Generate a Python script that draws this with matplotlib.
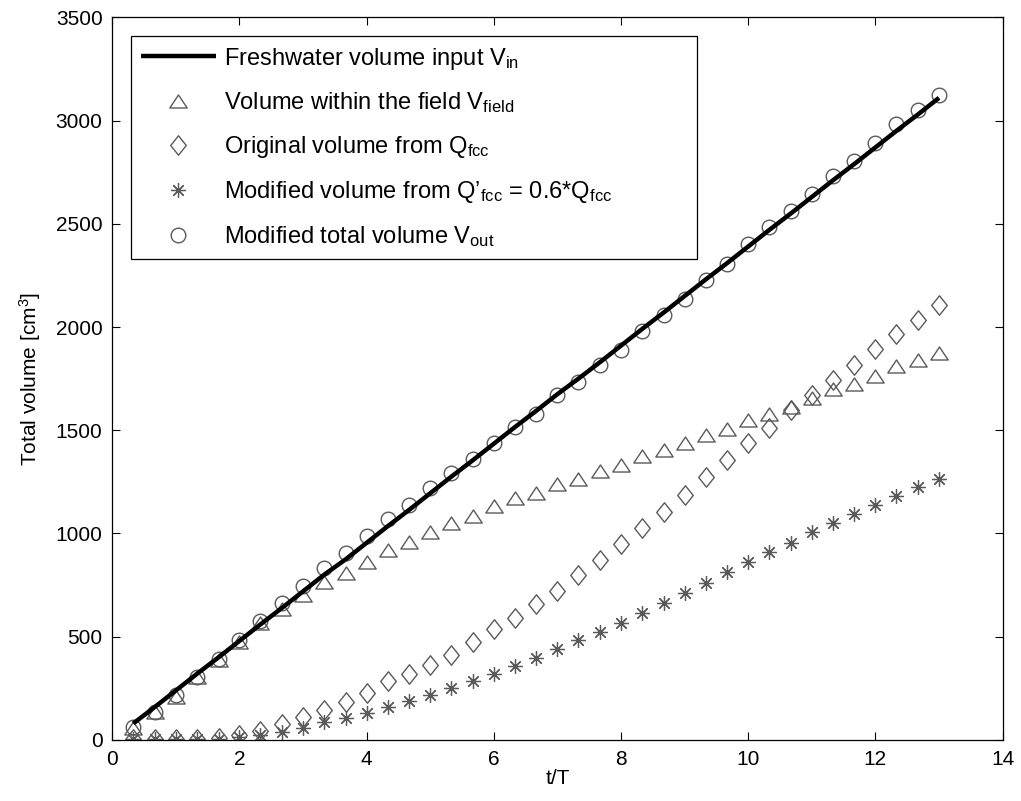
import matplotlib
matplotlib.use('Agg')
import matplotlib.pyplot as plt
from matplotlib.path import Path

plt.rcParams['font.family'] = ['Liberation Sans', 'DejaVu Sans']
plt.rcParams['mathtext.fontset'] = 'custom'
plt.rcParams['mathtext.rm'] = 'Liberation Sans'
plt.rcParams['mathtext.it'] = 'Liberation Sans:italic'
plt.rcParams['font.size'] = 15

# t/T sample points (every third of a period)
t_over_T = [0.33, 0.67, 1.0, 1.33, 1.67, 2.0, 2.33, 2.67, 3.0, 3.33,
            3.67, 4.0, 4.33, 4.67, 5.0, 5.33, 5.67, 6.0, 6.33, 6.67,
            7.0, 7.33, 7.67, 8.0, 8.33, 8.67, 9.0, 9.33, 9.67, 10.0,
            10.33, 10.67, 11.0, 11.33, 11.67, 12.0, 12.33, 12.67, 13.0]

# freshwater input V_in (straight line)
v_in = [80, 160, 240, 320, 400, 480, 560, 640, 720, 800,
        875, 955, 1035, 1115, 1195, 1275, 1355, 1435, 1515, 1595,
        1675, 1750, 1830, 1910, 1990, 2070, 2150, 2230, 2310, 2390,
        2470, 2550, 2630, 2710, 2790, 2870, 2950, 3030, 3110]

# volume within the field V_field
v_field = [57, 137, 210, 303, 387, 476, 565, 633, 702, 766,
           808, 863, 920, 960, 1008, 1052, 1084, 1133, 1170, 1197,
           1239, 1263, 1303, 1331, 1375, 1404, 1438, 1476, 1506, 1551,
           1580, 1613, 1654, 1698, 1723, 1763, 1812, 1839, 1872]

# original volume from Q_fcc
v_fcc = [3, 3, 3, 3, 8, 24, 45, 75, 113, 145,
         186, 226, 285, 318, 363, 413, 476, 536, 592, 658,
         722, 799, 871, 949, 1025, 1105, 1186, 1272, 1357, 1436,
         1513, 1597, 1670, 1742, 1818, 1892, 1968, 2036, 2105]

# modified volume from Q'_fcc = 0.6*Q_fcc
v_fcc_mod = [3, 3, 3, 3, 3, 12, 25, 38, 60, 86,
             105, 129, 161, 188, 218, 250, 287, 321, 356, 395,
             439, 482, 522, 566, 613, 665, 710, 762, 812, 860,
             910, 955, 1005, 1049, 1093, 1138, 1181, 1223, 1262]

# modified total volume V_out
v_out = [64, 137, 218, 306, 392, 484, 577, 662, 747, 833,
         907, 989, 1070, 1137, 1218, 1294, 1360, 1439, 1517, 1581,
         1670, 1732, 1815, 1891, 1980, 2057, 2138, 2230, 2307, 2401,
         2485, 2563, 2646, 2731, 2804, 2891, 2982, 3049, 3125]

gray = '#5a5a5a'
# flat MATLAB-like triangle and diamond
tri = Path([(0, 0.75), (-1, -0.75), (1, -0.75), (0, 0.75)],
           [Path.MOVETO, Path.LINETO, Path.LINETO, Path.CLOSEPOLY])
dia = Path([(0, 1), (-0.8, 0), (0, -1), (0.8, 0), (0, 1)],
           [Path.MOVETO, Path.LINETO, Path.LINETO, Path.LINETO, Path.CLOSEPOLY])

fig = plt.figure(figsize=(10.21, 8.01), dpi=100)
ax = fig.add_axes([0.110, 0.0762, 0.872, 0.9022])

ax.plot(t_over_T, v_in, color='black', lw=3.2, solid_capstyle='butt',
        label=r'Freshwater volume input V$_{\mathrm{in}}$', zorder=3)
ax.plot(t_over_T, v_field, ls='none', marker=tri, ms=12.5, mfc='none',
        mec=gray, mew=1.0, label=r'Volume within the field V$_{\mathrm{field}}$')
ax.plot(t_over_T, v_fcc, ls='none', marker=dia, ms=14, mfc='none',
        mec=gray, mew=1.0, label=r'Original volume from Q$_{\mathrm{fcc}}$')
ax.plot(t_over_T, v_fcc_mod, ls='none', marker=(8, 2, 0), ms=10.5, mfc='none',
        mec=gray, mew=0.9,
        label=r'Modified volume from Q’$_{\mathrm{fcc}}$ = 0.6*Q$_{\mathrm{fcc}}$')
ax.plot(t_over_T, v_out, ls='none', marker='o', ms=10.5, mfc='none',
        mec=gray, mew=1.0, label=r'Modified total volume V$_{\mathrm{out}}$')

ax.set_xlim(0, 14)
ax.set_ylim(0, 3500)
ax.set_xticks([0, 2, 4, 6, 8, 10, 12, 14])
ax.set_yticks([0, 500, 1000, 1500, 2000, 2500, 3000, 3500])
ax.tick_params(direction='in', length=5.5, width=0.8, top=True, right=True,
               labelsize=15)
ax.tick_params(axis='y', pad=7)
ax.tick_params(axis='x', pad=7)
for s in ax.spines.values():
    s.set_linewidth(0.9)

ax.set_xlabel('t/T', fontsize=15, labelpad=0)
ax.set_ylabel(r'Total volume [cm$^3$]', fontsize=15)
ax.yaxis.set_label_coords(-0.078, 0.5)

# legend box spans the same region as in the reference
leg = ax.legend(loc='upper left', bbox_to_anchor=(0.0207, 0.9745, 0.6357, 0.0),
                mode='expand', borderaxespad=0, fancybox=False, framealpha=1,
                edgecolor='black', handlelength=3.2, handletextpad=0.34,
                borderpad=0.42, labelspacing=0.8, fontsize=17)
leg.get_frame().set_linewidth(0.9)

fig.savefig('out.png', dpi=100)
